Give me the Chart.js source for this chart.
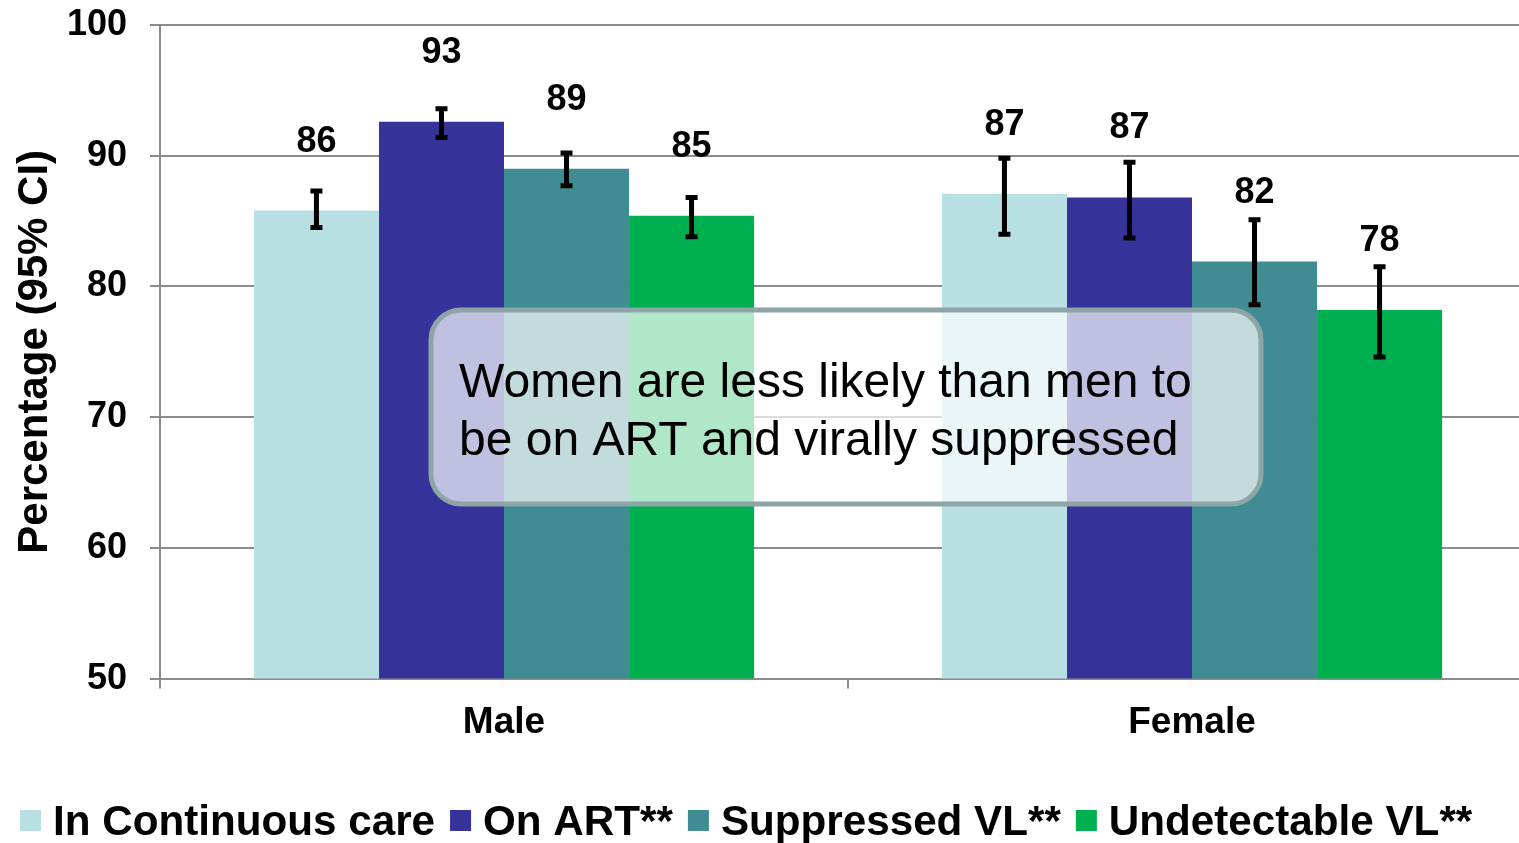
<!DOCTYPE html>
<html>
<head>
<meta charset="utf-8">
<script src="https://cdn.jsdelivr.net/npm/chart.js"></script>
<style>
  * { margin: 0; padding: 0; box-sizing: border-box; }
  html, body { width: 1519px; height: 843px; overflow: hidden; background: #fff; }
  #chart { display: block; }
</style>
</head>
<body>
<canvas id="chart" width="1536" height="843"></canvas>
<script>
  // Chart data
  const groups = ['Male', 'Female'];
  const seriesNames = ['In Continuous care', 'On ART**', 'Suppressed VL**', 'Undetectable VL**'];
  const seriesColors = ['#B8DFE2', '#36349A', '#3F8C92', '#00B050'];
  const continuousCare = [85.8, 87.1];
  const onArt = [92.6, 86.8];
  const suppressedVl = [89.0, 81.9];
  const undetectableVl = [85.4, 78.2];
  // 95% CI (low, high) per series
  const ciLow = [[84.5, 84.0], [91.4, 83.7], [87.7, 78.6], [83.8, 74.6]];
  const ciHigh = [[87.3, 89.8], [93.6, 89.5], [90.2, 85.1], [86.8, 81.5]];
  const yTicks = [50, 60, 70, 80, 90, 100];

  const FONT = "'Liberation Sans', Arial, sans-serif";
  const GRID = '#8C8C8C';
  const seriesValues = [continuousCare, onArt, suppressedVl, undetectableVl];

  // error bars + value labels
  const errorBars = {
    id: 'errorBars',
    afterDatasetsDraw(chart) {
      const ctx = chart.ctx;
      const y = chart.scales.y;
      ctx.save();
      chart.data.datasets.forEach((ds, i) => {
        const meta = chart.getDatasetMeta(i);
        meta.data.forEach((bar, j) => {
          const top = y.getPixelForValue(ciHigh[i][j]);
          const bot = y.getPixelForValue(ciLow[i][j]);
          ctx.strokeStyle = '#000';
          ctx.lineWidth = 5;
          ctx.beginPath();
          ctx.moveTo(bar.x, top);
          ctx.lineTo(bar.x, bot);
          ctx.moveTo(bar.x - 6, top);
          ctx.lineTo(bar.x + 6, top);
          ctx.moveTo(bar.x - 6, bot);
          ctx.lineTo(bar.x + 6, bot);
          ctx.stroke();

          ctx.fillStyle = '#000';
          ctx.font = 'bold 36px ' + FONT;
          ctx.textAlign = 'center';
          ctx.textBaseline = 'middle';
          ctx.fillText(Math.round(ds.data[j]), bar.x, bar.y - 69);
        });
      });
      ctx.restore();
    }
  };

  // callout box and legend
  const extras = {
    id: 'extras',
    afterDraw(chart) {
      const ctx = chart.ctx;
      ctx.save();
      // callout
      ctx.beginPath();
      ctx.roundRect(431, 310, 830, 194, 30);
      ctx.fillStyle = 'rgba(255,255,255,0.69)';
      ctx.fill();
      ctx.lineWidth = 5;
      ctx.strokeStyle = '#8DA5A6';
      ctx.stroke();
      ctx.fillStyle = '#000';
      ctx.font = '48px ' + FONT;
      ctx.textAlign = 'left';
      ctx.textBaseline = 'alphabetic';
      ctx.fillText('Women are less likely than men to', 459, 397);
      ctx.fillText('be on ART and virally suppressed', 459, 455);

      // legend
      ctx.font = 'bold 42.2px ' + FONT;
      ctx.textBaseline = 'alphabetic';
      let x = 20;
      chart.data.datasets.forEach(ds => {
        ctx.fillStyle = ds.backgroundColor;
        ctx.fillRect(x, 810, 21, 21);
        x += 21 + 12;
        ctx.fillStyle = '#000';
        ctx.fillText(ds.label, x, 835);
        x += ctx.measureText(ds.label).width + 15;
      });
      ctx.restore();
    }
  };

  new Chart(document.getElementById('chart'), {
    type: 'bar',
    data: {
      labels: groups,
      datasets: seriesNames.map((name, i) => ({
        label: name,
        data: seriesValues[i],
        backgroundColor: seriesColors[i],
        borderWidth: 0,
        barPercentage: 1,
        categoryPercentage: 0.727
      }))
    },
    options: {
      responsive: false,
      animation: false,
      devicePixelRatio: 1,
      layout: { padding: { top: 25, bottom: 86, left: 0, right: 0 } },
      plugins: { legend: { display: false }, tooltip: { enabled: false } },
      scales: {
        x: {
          offset: true,
          grid: { display: true, drawOnChartArea: false, drawTicks: true, tickLength: 10, color: GRID, lineWidth: 2, offset: true },
          border: { display: true, color: GRID, width: 2 },
          ticks: { color: '#000', font: { family: FONT, size: 37, weight: 'bold' }, padding: 12 }
        },
        y: {
          min: 50,
          max: 100,
          afterBuildTicks(scale) { scale.ticks = yTicks.map(v => ({ value: v })); },
          afterFit(scale) { scale.width = 160; scale.paddingTop = 0; scale.paddingBottom = 0; },
          grid: { color: GRID, lineWidth: 2, drawTicks: true, tickLength: 10 },
          border: { display: true, color: GRID, width: 2 },
          ticks: { color: '#000', font: { family: FONT, size: 36, weight: 'bold' }, padding: 23 },
          title: {
            display: true,
            text: 'Percentage (95% CI)',
            color: '#000',
            font: { family: FONT, size: 42, weight: 'bold' },
            padding: { top: 10, bottom: 0 }
          }
        }
      }
    },
    plugins: [errorBars, extras]
  });
</script>
</body>
</html>
